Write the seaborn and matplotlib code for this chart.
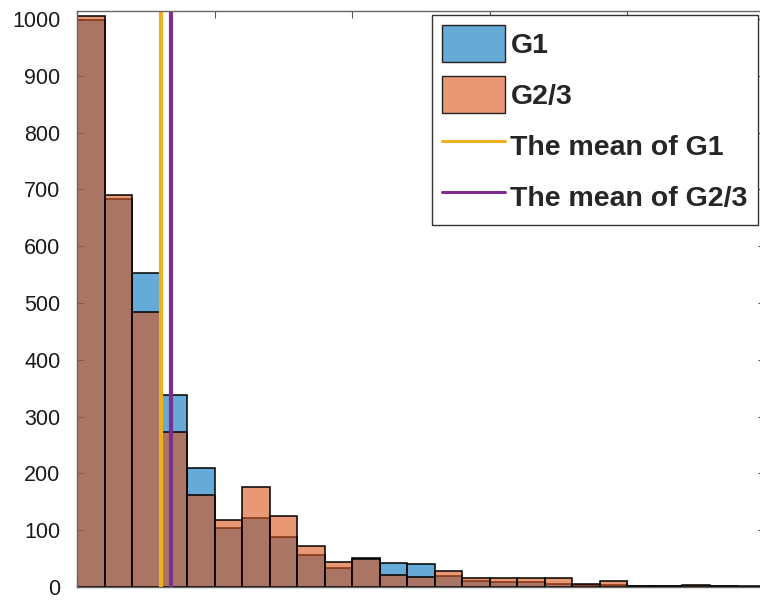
import numpy as np
import pandas as pd
import matplotlib
matplotlib.use("Agg")
import matplotlib.pyplot as plt
import seaborn as sns
from matplotlib.patches import Patch
from matplotlib.lines import Line2D

# ---- data ----
bin_edges = list(range(0, 26))           # 25 equal-width bins
g1_counts = [999, 683, 553, 338, 209, 104, 121, 88, 56, 33, 51, 42, 41, 19, 11, 9, 8, 6, 3, 3, 1, 1, 1, 1, 0]
g23_counts = [1006, 690, 484, 273, 162, 118, 176, 125, 72, 44, 50, 21, 18, 28, 16, 16, 16, 16, 5, 11, 1, 1, 4, 1, 1]
mean_g1 = 3.05
mean_g23 = 3.42
labels = ["G1", "G2/3", "The mean of G1", "The mean of G2/3"]
yticks = [0, 100, 200, 300, 400, 500, 600, 700, 800, 900, 1000]

# ---- styles ----
c_g1 = (0.0, 0.447, 0.741)
c_g23 = (0.85, 0.325, 0.098)
c_m1 = (0.929, 0.694, 0.125)
c_m23 = (0.494, 0.184, 0.556)
alpha = 0.6

sns.set_theme(style="white")
plt.rcParams["font.family"] = ["Liberation Sans", "DejaVu Sans"]

centers = [(bin_edges[i] + bin_edges[i + 1]) / 2 for i in range(len(bin_edges) - 1)]
df1 = pd.DataFrame({"x": centers, "w": g1_counts})
df2 = pd.DataFrame({"x": centers, "w": g23_counts})

fig = plt.figure(figsize=(7.6, 6.0), dpi=100)
ax = fig.add_axes([77 / 760, 13 / 600, 687.5 / 760, 576 / 600])

sns.histplot(data=df1, x="x", weights="w", bins=bin_edges, color=c_g1, alpha=alpha,
             edgecolor="black", linewidth=1.1, ax=ax)
sns.histplot(data=df2, x="x", weights="w", bins=bin_edges, color=c_g23, alpha=alpha,
             edgecolor="black", linewidth=1.1, ax=ax)
ax.axvline(mean_g1, color=c_m1, lw=3)
ax.axvline(mean_g23, color=c_m23, lw=3)

ax.set_xlim(bin_edges[0], bin_edges[-1])
ax.set_ylim(0, 1014)
ax.set_yticks(yticks)
ax.set_yticklabels([str(t) for t in yticks], fontsize=15.5, color="#1a1a1a")
ax.set_xticks(list(range(0, 26, 5)))
ax.set_xticklabels([])
ax.set_xlabel("")
ax.set_ylabel("")
ax.tick_params(direction="in", length=5, width=0.8, color="#555555",
               top=True, right=True, bottom=True, left=True, pad=12)
for s in ax.spines.values():
    s.set_visible(True)
    s.set_color("#666666")
    s.set_linewidth(1.0)

handles = [
    Patch(facecolor=(*c_g1, alpha), edgecolor="#222222", linewidth=1.0),
    Patch(facecolor=(*c_g23, alpha), edgecolor="#222222", linewidth=1.0),
    Line2D([], [], color=c_m1, lw=2.2),
    Line2D([], [], color=c_m23, lw=2.2),
]
leg = ax.legend(handles, labels, loc="upper right",
                bbox_to_anchor=(758 / 760, 1 - 15 / 600), bbox_transform=fig.transFigure,
                borderaxespad=0, fancybox=False, framealpha=1, edgecolor="#333333",
                prop={"weight": "bold", "size": 20.5},
                handlelength=2.2, handleheight=1.62, handletextpad=0.2,
                labelspacing=0.49, borderpad=0.36)
leg.get_frame().set_linewidth(1.0)

fig.savefig("out.png", dpi=100)
